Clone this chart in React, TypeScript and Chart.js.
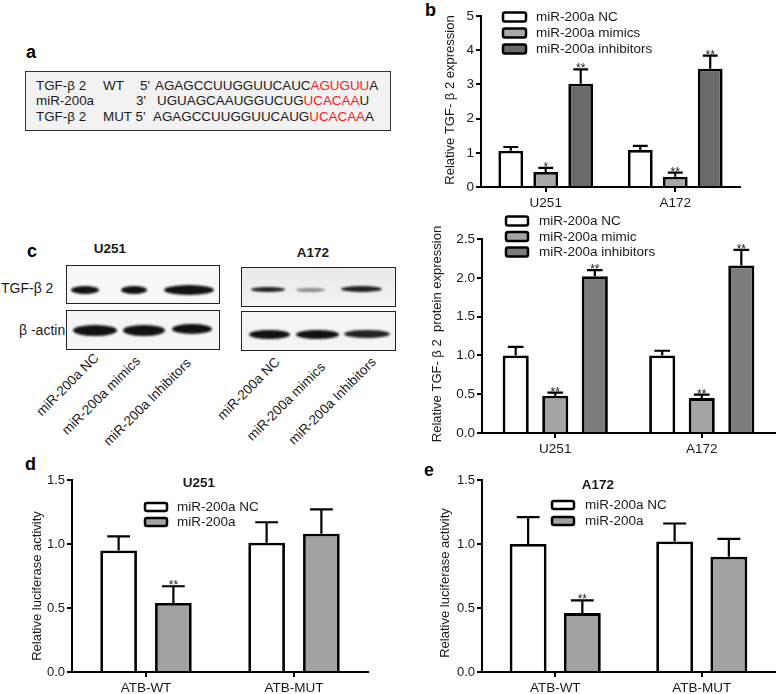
import React, { useEffect, useRef } from 'react';
import { Chart, registerables } from 'chart.js';
Chart.register(...registerables);

const FONT = "'Liberation Sans', Arial, Helvetica, sans-serif";
const INK = '#1a1a1a';

// ---------- Panel b: relative TGF-β2 mRNA expression ----------
const bCategories = ['U251', 'A172'];
const bLabels = ['miR-200a NC', 'miR-200a mimics', 'miR-200a inhibitors'];
const bNC = [1.06, 1.08];
const bNCErr = [0.11, 0.12];
const bMimics = [0.44, 0.30];
const bMimicsErr = [0.12, 0.12];
const bInhib = [3.02, 3.46];
const bInhibErr = [0.42, 0.38];
const bMimicsStars = ['*', '**'];
const bInhibStars = ['**', '**'];

// ---------- Panel c (right): relative TGF-β2 protein expression ----------
const cCategories = ['U251', 'A172'];
const cLabels = ['miR-200a NC', 'miR-200a mimic', 'miR-200a inhibitors'];
const cNC = [1.0, 1.0];
const cNCErr = [0.11, 0.06];
const cMimic = [0.48, 0.45];
const cMimicErr = [0.04, 0.045];
const cInhib = [2.02, 2.16];
const cInhibErr = [0.08, 0.2];
const cMimicStars = ['**', '**'];
const cInhibStars = ['**', '**'];

// ---------- Panel d: luciferase U251 ----------
const dCategories = ['ATB-WT', 'ATB-MUT'];
const dLabels = ['miR-200a NC', 'miR-200a'];
const dNC = [0.95, 1.01];
const dNCErr = [0.11, 0.16];
const dMiR = [0.54, 1.08];
const dMiRErr = [0.13, 0.19];
const dMiRStars = ['**', ''];

// ---------- Panel e: luciferase A172 ----------
const eCategories = ['ATB-WT', 'ATB-MUT'];
const eLabels = ['miR-200a NC', 'miR-200a'];
const eNC = [1.0, 1.02];
const eNCErr = [0.21, 0.14];
const eMiR = [0.46, 0.9];
const eMiRErr = [0.1, 0.14];
const eMiRStars = ['**', ''];

// ---------- Panel a / c(blot) texts ----------
const blotLanes = ['miR-200a NC', 'miR-200a mimics', 'miR-200a Inhibitors'];

// ---------------- plugins ----------------
const errPlugin = {
  id: 'errBars',
  afterDatasetsDraw(chart: any, _a: any, opts: any) {
    const ctx = chart.ctx;
    const y = chart.scales.y;
    chart.data.datasets.forEach((ds: any, di: number) => {
      const meta = chart.getDatasetMeta(di);
      meta.data.forEach((bar: any, i: number) => {
        const v = ds.data[i];
        const e = (ds.errors && ds.errors[i]) || 0;
        const yb = y.getPixelForValue(v);
        const yt = y.getPixelForValue(v + e);
        const cw = bar.width * (opts.capRatio || 0.6);
        ctx.save();
        ctx.strokeStyle = '#000';
        ctx.lineWidth = 2.2;
        ctx.beginPath();
        ctx.moveTo(bar.x, yb);
        ctx.lineTo(bar.x, yt);
        ctx.moveTo(bar.x - cw / 2, yt);
        ctx.lineTo(bar.x + cw / 2, yt);
        ctx.stroke();
        const s = ds.stars && ds.stars[i];
        if (s) {
          ctx.fillStyle = INK;
          ctx.font = `${opts.starSize || 12}px ${FONT}`;
          ctx.textAlign = 'center';
          ctx.textBaseline = 'alphabetic';
          ctx.fillText(s, bar.x, yt + 3);
        }
        ctx.restore();
      });
    });
  },
};

const legendPlugin = {
  id: 'boxLegend',
  afterDraw(chart: any, _a: any, o: any) {
    const ctx = chart.ctx;
    chart.data.datasets.forEach((ds: any, i: number) => {
      const cy = o.y + i * o.rowH;
      ctx.save();
      ctx.fillStyle = ds.backgroundColor;
      ctx.strokeStyle = '#000';
      ctx.lineWidth = 2.5;
      ctx.beginPath();
      (ctx as any).roundRect(o.x, cy - o.boxH / 2, o.boxW, o.boxH, 2);
      ctx.fill();
      ctx.stroke();
      ctx.fillStyle = INK;
      ctx.font = `${o.size}px ${FONT}`;
      ctx.textAlign = 'left';
      ctx.textBaseline = 'middle';
      ctx.fillText(ds.label, o.textX, cy + 0.5);
      ctx.restore();
    });
  },
};

const yTitlePlugin = {
  id: 'yTitle',
  afterDraw(chart: any, _a: any, o: any) {
    const ctx = chart.ctx;
    ctx.save();
    ctx.translate(o.x, o.y);
    ctx.rotate(-Math.PI / 2);
    ctx.fillStyle = INK;
    ctx.font = `${o.size}px ${FONT}`;
    ctx.textAlign = 'center';
    ctx.textBaseline = 'middle';
    ctx.fillText(o.text, 0, 0);
    ctx.restore();
  },
};

type DS = { label: string; data: number[]; errors: number[]; stars?: string[]; color: string };
type Spec = {
  categories: string[];
  datasets: DS[];
  yMax: number;
  yStep: number;
  decimals: number;
  canvas: { left: number; top: number; w: number; h: number };
  area: { left: number; right: number; top: number; bottom: number };
  tickSize: number;
  xTickSize: number;
  yTitle: { text: string; x: number; y: number; size: number };
  legend: { x: number; y: number; rowH: number; boxW: number; boxH: number; textX: number; size: number };
  catPct: number;
  barPct: number;
  capRatio: number;
  starSize: number;
};

function makeConfig(s: Spec): any {
  const { canvas, area } = s;
  const yW = area.left - canvas.left;
  const xH = canvas.top + canvas.h - area.bottom;
  const padTop = area.top - canvas.top;
  const padRight = canvas.left + canvas.w - area.right;
  const axisGrid = (len: number) => ({
    display: true,
    drawOnChartArea: false,
    drawTicks: true,
    tickLength: len,
    color: '#000',
    lineWidth: 2,
    offset: false,
  });
  return {
    type: 'bar',
    data: {
      labels: s.categories,
      datasets: s.datasets.map((d) => ({
        label: d.label,
        data: d.data,
        errors: d.errors,
        stars: d.stars,
        backgroundColor: d.color,
        borderColor: '#000',
        borderWidth: 2.8,
        borderSkipped: 'start',
        categoryPercentage: s.catPct,
        barPercentage: s.barPct,
      })),
    },
    options: {
      responsive: false,
      animation: false,
      devicePixelRatio: 1,
      events: [],
      layout: { padding: { top: padTop, right: padRight, left: 0, bottom: 0 } },
      plugins: {
        legend: { display: false },
        tooltip: { enabled: false },
        title: { display: false },
        errBars: { capRatio: s.capRatio, starSize: s.starSize },
        boxLegend: {
          ...s.legend,
          x: s.legend.x - canvas.left,
          textX: s.legend.textX - canvas.left,
          y: s.legend.y - canvas.top,
        },
        yTitle: { ...s.yTitle, x: s.yTitle.x - canvas.left, y: s.yTitle.y - canvas.top },
      },
      scales: {
        x: {
          type: 'category',
          offset: true,
          grid: axisGrid(5),
          border: { display: true, color: '#000', width: 2 },
          ticks: {
            font: { family: FONT, size: s.xTickSize },
            color: INK,
            padding: 3,
            maxRotation: 0,
            autoSkip: false,
          },
          afterFit: (sc: any) => {
            sc.height = xH;
          },
        },
        y: {
          min: 0,
          max: s.yMax,
          grid: axisGrid(5),
          border: { display: true, color: '#000', width: 2 },
          ticks: {
            stepSize: s.yStep,
            font: { family: FONT, size: s.tickSize },
            color: INK,
            padding: 2,
            callback: (v: any) => Number(v).toFixed(s.decimals),
          },
          afterFit: (sc: any) => {
            sc.width = yW;
          },
        },
      },
    },
    plugins: [errPlugin, legendPlugin, yTitlePlugin],
  };
}

function BarPanel({ spec }: { spec: Spec }) {
  const ref = useRef<HTMLCanvasElement>(null);
  useEffect(() => {
    if (!ref.current) return;
    const chart = new Chart(ref.current, makeConfig(spec));
    return () => chart.destroy();
  }, []);
  const { canvas } = spec;
  return (
    <canvas
      ref={ref}
      width={canvas.w}
      height={canvas.h}
      style={{ position: 'absolute', left: canvas.left, top: canvas.top, width: canvas.w, height: canvas.h }}
    />
  );
}

const WHITE = '#ffffff';
const MID = '#a8a8a8';
const DARK = '#6a6a6a';

const specB: Spec = {
  categories: bCategories,
  datasets: [
    { label: bLabels[0], data: bNC, errors: bNCErr, color: WHITE },
    { label: bLabels[1], data: bMimics, errors: bMimicsErr, stars: bMimicsStars, color: MID },
    { label: bLabels[2], data: bInhib, errors: bInhibErr, stars: bInhibStars, color: DARK },
  ],
  yMax: 5,
  yStep: 1,
  decimals: 0,
  canvas: { left: 420, top: 0, w: 358, h: 215 },
  area: { left: 481, right: 740, top: 16, bottom: 187 },
  tickSize: 13.5,
  xTickSize: 13.5,
  yTitle: { text: 'Relative TGF- β 2 expression', x: 450, y: 100, size: 13 },
  legend: { x: 503, y: 17, rowH: 16, boxW: 23, boxH: 9, textX: 536, size: 13.5 },
  catPct: 0.81,
  barPct: 0.71,
  capRatio: 0.6,
  starSize: 12,
};

const specC: Spec = {
  categories: cCategories,
  datasets: [
    { label: cLabels[0], data: cNC, errors: cNCErr, color: WHITE },
    { label: cLabels[1], data: cMimic, errors: cMimicErr, stars: cMimicStars, color: '#a4a4a4' },
    { label: cLabels[2], data: cInhib, errors: cInhibErr, stars: cInhibStars, color: '#7c7c7c' },
  ],
  yMax: 2.5,
  yStep: 0.5,
  decimals: 1,
  canvas: { left: 420, top: 210, w: 358, h: 252 },
  area: { left: 482, right: 775, top: 239, bottom: 433 },
  tickSize: 13.5,
  xTickSize: 13.5,
  yTitle: { text: 'Relative TGF- β 2  protein expression', x: 437, y: 334, size: 13 },
  legend: { x: 506, y: 221, rowH: 15.5, boxW: 22, boxH: 9, textX: 539, size: 13.5 },
  catPct: 0.81,
  barPct: 0.66,
  capRatio: 0.6,
  starSize: 12,
};

const specD: Spec = {
  categories: dCategories,
  datasets: [
    { label: dLabels[0], data: dNC, errors: dNCErr, color: WHITE },
    { label: dLabels[1], data: dMiR, errors: dMiRErr, stars: dMiRStars, color: '#a2a2a2' },
  ],
  yMax: 1.5,
  yStep: 0.5,
  decimals: 1,
  canvas: { left: 0, top: 455, w: 390, h: 239 },
  area: { left: 72, right: 368, top: 480, bottom: 672 },
  tickSize: 13,
  xTickSize: 13.5,
  yTitle: { text: 'Relative luciferase activity', x: 37, y: 586, size: 13 },
  legend: { x: 145, y: 507, rowH: 15, boxW: 22, boxH: 8, textX: 177, size: 13.5 },
  catPct: 0.74,
  barPct: 0.67,
  capRatio: 0.62,
  starSize: 12,
};

const specE: Spec = {
  categories: eCategories,
  datasets: [
    { label: eLabels[0], data: eNC, errors: eNCErr, color: WHITE },
    { label: eLabels[1], data: eMiR, errors: eMiRErr, stars: eMiRStars, color: '#a2a2a2' },
  ],
  yMax: 1.5,
  yStep: 0.5,
  decimals: 1,
  canvas: { left: 390, top: 455, w: 388, h: 239 },
  area: { left: 482, right: 775, top: 480, bottom: 672 },
  tickSize: 13,
  xTickSize: 13.5,
  yTitle: { text: 'Relative luciferase activity', x: 445, y: 583, size: 13 },
  legend: { x: 552, y: 505, rowH: 16, boxW: 22, boxH: 8, textX: 585, size: 13.5 },
  catPct: 0.74,
  barPct: 0.68,
  capRatio: 0.62,
  starSize: 12,
};

// ---------------- HTML helpers ----------------
const abs = (left: number, top: number, extra: any = {}): any => ({ position: 'absolute', left, top, ...extra });

function Letter({ ch, left, top }: { ch: string; left: number; top: number }) {
  return (
    <div style={abs(left, top, { fontFamily: FONT, fontWeight: 'bold', fontSize: 18, lineHeight: '18px', color: '#000' })}>
      {ch}
    </div>
  );
}

function Txt({ children, left, cy, size = 13, bold = false, center = false, z = 0 }: any) {
  const st: any = abs(left, cy - size * 0.6, {
    fontFamily: FONT,
    fontSize: size,
    lineHeight: `${size * 1.2}px`,
    color: INK,
    whiteSpace: 'nowrap',
    fontWeight: bold ? 'bold' : 'normal',
    zIndex: z,
  });
  if (center) st.transform = 'translateX(-50%)';
  return <div style={st}>{children}</div>;
}

const RED = '#ff1a1a';

function SequencePanel() {
  const S = 13.4;
  return (
    <>
      <Letter ch="a" left={26} top={43} />
      <div
        style={abs(25, 71, {
          width: 366,
          height: 60,
          boxSizing: 'border-box',
          background: '#f2f2f2',
          border: '1.5px solid #333',
        })}
      />
      <Txt left={36} cy={86} size={S}>TGF-β 2</Txt>
      <Txt left={103} cy={86} size={S}>WT</Txt>
      <Txt left={140} cy={86} size={S}>5'</Txt>
      <Txt left={155} cy={86} size={S}>
        AGAGCCUUGGUUCAUC<span style={{ color: RED }}>AGUGUU</span>A
      </Txt>
      <Txt left={36} cy={101} size={S}>miR-200a</Txt>
      <Txt left={136} cy={101} size={S}>3'</Txt>
      <Txt left={157} cy={101} size={S}>
        UGUAGCAAUGGUCUG<span style={{ color: RED }}>UCACAA</span>U
      </Txt>
      <Txt left={36} cy={117} size={S}>TGF-β 2</Txt>
      <Txt left={103} cy={117} size={S}>MUT 5'</Txt>
      <Txt left={153} cy={117} size={S}>
        AGAGCCUUGGUUCAUG<span style={{ color: RED }}>UCACAA</span>A
      </Txt>
    </>
  );
}

type Band = { x1: number; x2: number; cy: number; h: number; c: string };
function BlotBox({ x, y, w, h, bands, bg }: { x: number; y: number; w: number; h: number; bands: Band[]; bg: string }) {
  return (
    <div
      style={abs(x, y, {
        width: w,
        height: h,
        boxSizing: 'border-box',
        border: '1.5px solid #222',
        background: bg,
        overflow: 'hidden',
        zIndex: 2,
      })}
    >
      {bands.map((b, i) => (
        <div
          key={i}
          style={abs(b.x1 - x, b.cy - b.h / 2 - y, {
            width: b.x2 - b.x1,
            height: b.h,
            background: b.c,
            borderRadius: '50%',
            filter: 'blur(1.3px)',
          })}
        />
      ))}
    </div>
  );
}

function RotLabel({ text, x, y }: { text: string; x: number; y: number }) {
  return (
    <div style={abs(x, y, { width: 0, height: 0 })}>
      <div
        style={{
          position: 'absolute',
          right: 0,
          top: -8,
          whiteSpace: 'nowrap',
          fontFamily: FONT,
          fontSize: 13.5,
          lineHeight: '16px',
          color: INK,
          transformOrigin: 'right center',
          transform: 'rotate(-45deg)',
        }}
      >
        {text}
      </div>
    </div>
  );
}

function BlotPanel() {
  const D = '#121212';
  return (
    <>
      <Letter ch="c" left={27} top={242} />
      <Txt left={110} cy={249} bold center size={13.5}>U251</Txt>
      <Txt left={313} cy={253} bold center size={13.5}>A172</Txt>
      <Txt left={1} cy={288} size={14}>TGF-β 2</Txt>
      <Txt left={19} cy={330} size={14}>β -actin</Txt>
      <BlotBox
        x={66}
        y={265}
        w={154}
        h={39}
        bg="#f7f7f7"
        bands={[
          { x1: 70, x2: 98, cy: 289, h: 8, c: D },
          { x1: 120, x2: 146, cy: 289, h: 8, c: D },
          { x1: 163, x2: 213, cy: 289, h: 10, c: D },
        ]}
      />
      <BlotBox
        x={66}
        y={310}
        w={154}
        h={40}
        bg="#f5f5f5"
        bands={[
          { x1: 72, x2: 116, cy: 329, h: 11, c: D },
          { x1: 122, x2: 164, cy: 329, h: 11, c: D },
          { x1: 171, x2: 211, cy: 328, h: 10, c: D },
        ]}
      />
      <BlotBox
        x={241}
        y={267}
        w={155}
        h={40}
        bg="linear-gradient(to bottom, #e9e9e9, #f3f3f3)"
        bands={[
          { x1: 250, x2: 284, cy: 288, h: 5, c: '#1e1e1e' },
          { x1: 295, x2: 324, cy: 289, h: 4, c: '#8a8a8a' },
          { x1: 340, x2: 381, cy: 288, h: 6, c: '#1e1e1e' },
        ]}
      />
      <BlotBox
        x={241}
        y={311}
        w={155}
        h={40}
        bg="#f4f4f4"
        bands={[
          { x1: 248, x2: 289, cy: 333, h: 9, c: D },
          { x1: 295, x2: 338, cy: 333, h: 9, c: D },
          { x1: 343, x2: 389, cy: 333, h: 8, c: '#222' },
        ]}
      />
      <RotLabel text={blotLanes[0]} x={97} y={356} />
      <RotLabel text={blotLanes[1]} x={138} y={359} />
      <RotLabel text={blotLanes[2]} x={189} y={361} />
      <RotLabel text={blotLanes[0]} x={278} y={360} />
      <RotLabel text={blotLanes[1]} x={323} y={365} />
      <RotLabel text={blotLanes[2]} x={374} y={360} />
    </>
  );
}

export default function App() {
  useEffect(() => {
    document.body.style.margin = '0';
  }, []);
  return (
    <div style={{ position: 'absolute', left: 0, top: 0, width: 778, height: 694, background: '#fff', overflow: 'hidden' }}>
      <SequencePanel />
      <BlotPanel />
      <Letter ch="b" left={425} top={1} />
      <BarPanel spec={specB} />
      <BarPanel spec={specC} />
      <Letter ch="d" left={25} top={455} />
      <Letter ch="e" left={424} top={461} />
      <Txt left={199} cy={483} bold center size={13.5}>U251</Txt>
      <Txt left={598} cy={485} bold center size={13.5}>A172</Txt>
      <BarPanel spec={specD} />
      <BarPanel spec={specE} />
    </div>
  );
}
